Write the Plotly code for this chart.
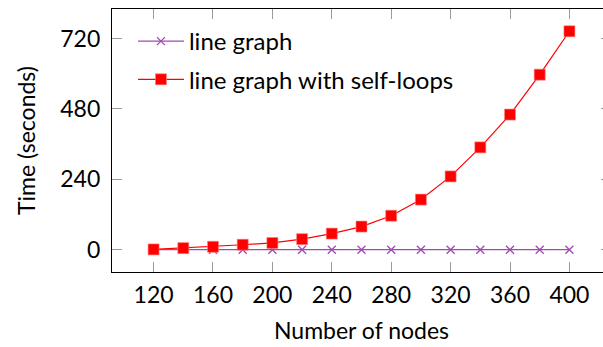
import plotly.graph_objects as go

nodes = [120, 140, 160, 180, 200, 220, 240, 260, 280, 300, 320, 340, 360, 380, 400]
line_graph = [0, 0, 0, 0, 0, 0, 0, 0, 0, 0, 0, 0, 0, 0, 0]
line_graph_self_loops = [1, 5.5, 10, 17, 23, 36, 55, 79, 116, 171, 250, 349, 461, 597, 745]

x_ticks = [120, 160, 200, 240, 280, 320, 360, 400]
y_ticks = [0, 240, 480, 720]

FONT = "Lato"
fig = go.Figure()
fig.add_trace(go.Scatter(
    x=nodes, y=line_graph, name="line graph", mode="lines+markers",
    line=dict(color="#a04ab0", width=1.2),
    marker=dict(symbol="x-thin", size=8, line=dict(color="#a04ab0", width=1.3)),
    legendgroup="a",
))
fig.add_trace(go.Scatter(
    x=nodes, y=line_graph_self_loops, name="line graph with self-loops", mode="lines+markers",
    line=dict(color="#ff0000", width=1.2),
    marker=dict(symbol="square", size=11, color="#ff0000", line=dict(color="#ff8080", width=0.6)),
    legendgroup="b",
))

axis_common = dict(
    showgrid=False, zeroline=False, showline=True, linecolor="black", linewidth=1.2,
    mirror="ticks", ticks="inside", ticklen=10, tickwidth=1.4, tickcolor="#9a9a9a",
    tickfont=dict(family=FONT, size=23, color="black"),
)
fig.update_xaxes(range=[92, 428], tickmode="array", tickvals=x_ticks,
                 title=dict(text="Number of nodes", font=dict(family=FONT, size=23, color="black"), standoff=16),
                 ticklabelstandoff=2, **axis_common)
fig.update_yaxes(range=[-76, 821], tickmode="array", tickvals=y_ticks,
                 title=dict(text="Time (seconds)", font=dict(family=FONT, size=23, color="black"), standoff=18),
                 ticklabelstandoff=6, **axis_common)

fig.update_layout(
    width=611, height=347,
    margin=dict(l=112, r=0, t=9, b=75),
    paper_bgcolor="white", plot_bgcolor="white",
    showlegend=True,
    legend=dict(x=0.042, y=0.962, xanchor="left", yanchor="top",
                bgcolor="rgba(255,255,255,0)", borderwidth=0,
                font=dict(family=FONT, size=24, color="black"),
                itemwidth=46, tracegroupgap=4),
)

fig.write_html("out.html", post_script="document.documentElement.style.overflow='hidden';document.body.style.overflow='hidden';")
